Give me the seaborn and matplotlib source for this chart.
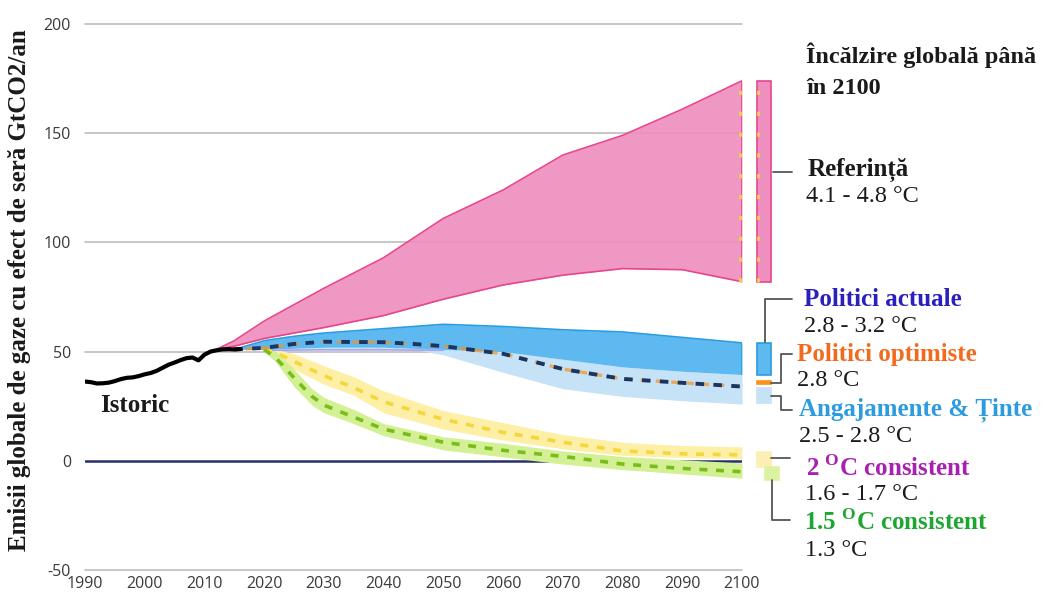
import numpy as np
import pandas as pd
import matplotlib
matplotlib.use("Agg")
import matplotlib.pyplot as plt
import seaborn as sns

# ---- historical emissions (GtCO2e / year) ----
hist_years = [1990, 1991, 1992, 1993, 1994, 1995, 1996, 1997, 1998, 1999, 2000,
              2001, 2002, 2003, 2004, 2005, 2006, 2007, 2008, 2009, 2010,
              2011, 2012, 2013, 2014, 2015, 2016]
hist_vals = [36.3, 36.0, 35.4, 35.5, 35.8, 36.5, 37.4, 38.0, 38.2, 38.8, 39.6,
             40.2, 41.2, 42.6, 44.0, 45.0, 46.1, 47.0, 47.3, 46.0, 48.6,
             50.0, 50.6, 51.0, 51.1, 51.0, 51.2]

# ---- baseline (reference) range ----
ref_years = [2012, 2015, 2020, 2030, 2040, 2050, 2060, 2070, 2080, 2090, 2100]
ref_high = [51, 55, 64, 79, 93, 111, 124, 140, 149, 161, 174]
ref_low = [51, 52.5, 56, 61, 66.5, 74, 80.5, 85, 88, 87.5, 82]

# ---- current policies range ----
cur_years = [2015, 2020, 2025, 2030, 2040, 2050, 2060, 2070, 2080, 2090, 2100]
cur_high = [51, 55, 57, 58.5, 60.5, 62.5, 61.5, 60, 59, 56.5, 54]
cur_low = [51, 51, 51.5, 52, 52, 51, 50, 46.5, 43, 41, 39.5]

# ---- pledges & targets range ----
pl_years = [2015, 2020, 2030, 2040, 2045, 2050, 2055, 2060, 2070, 2080, 2090, 2100]
pl_high = [51, 51, 52, 52, 51.5, 51, 50.5, 50, 46.5, 43, 41, 39.5]
pl_low = [51, 51, 51, 51, 51, 48.5, 44.5, 40.5, 33, 29.5, 27.5, 26]

# ---- optimistic policies median ----
opt_years = [2015, 2020, 2025, 2030, 2040, 2045, 2050, 2060, 2070, 2080, 2090, 2100]
opt_vals = [51, 51.7, 53.5, 54.5, 54.3, 53.5, 52.5, 49, 42, 37.5, 35.7, 34]

# ---- 2 °C consistent pathway ----
c2_years = [2020, 2022, 2025, 2030, 2035, 2040, 2050, 2060, 2070, 2080, 2090, 2100]
c2_high = [52, 51, 49, 43.5, 38.5, 32, 23, 17.5, 12, 8.5, 7, 6.4]
c2_mid = [51, 49.5, 45.5, 39, 33.5, 27, 19, 13, 8.5, 4.5, 3.2, 2.7]
c2_low = [50, 47, 42, 35, 30, 22, 14.5, 9.5, 5.5, 2.5, 1.5, 1.0]

# ---- 1.5 °C consistent pathway ----
c15_years = [2020, 2022, 2025, 2028, 2030, 2035, 2040, 2050, 2060, 2070, 2080, 2090, 2100]
c15_high = [52, 50, 42, 33, 29, 23.5, 17, 11, 8, 4.5, 2, 0.5, -1]
c15_mid = [51, 47, 38, 29.5, 25.5, 20, 14.5, 8.5, 4.8, 2, -1.5, -3.5, -5]
c15_low = [50, 45, 34, 25.5, 22, 17, 11.5, 5, 1.8, -1.5, -4, -6, -8]

# ---- 2100 ranges shown as bars beside the plot ----
bar_names = ["Referință", "Politici actuale", "Politici optimiste",
             "Angajamente & Ținte", "2 °C consistent", "1.5 °C consistent"]
bar_low = [82, 39.5, 35.2, 26.5, -2.7, -8.7]
bar_high = [174, 54, 36.4, 33.4, 4.1, -2.7]

# ---- axis ticks ----
x_ticks = list(range(1990, 2101, 10))
y_ticks = [-50, 0, 50, 100, 150, 200]

# ---- colours ----
PINK_FILL, PINK_EDGE = "#ef8fbf", "#e8468a"
BLUE_FILL, BLUE_EDGE = "#5db9ef", "#2a9de2"
LBLUE_FILL = "#c6e2f7"
YEL_FILL, YEL_LINE = "#fdf0a6", "#f5d63c"
GRN_FILL, GRN_LINE = "#d3f095", "#79bd1c"
NAVY = "#1b3560"
ORANGE = "#f7931e"

sns.set_theme(style="white")
plt.rcParams["font.family"] = ["Liberation Serif", "DejaVu Sans"]
plt.rcParams["mathtext.fontset"] = "custom"
plt.rcParams["mathtext.rm"] = "Liberation Serif"
plt.rcParams["mathtext.bf"] = "Liberation Serif:bold"
plt.rcParams["axes.unicode_minus"] = False

W, H = 1046, 594
fig = plt.figure(figsize=(W / 100, H / 100), dpi=100)
ax = fig.add_axes([85 / W, 24 / H, 657 / W, 546 / H])
ax.set_xlim(1990, 2100)
ax.set_ylim(-50, 200)
for s in ax.spines.values():
    s.set_visible(False)

# horizontal grid
for v in y_ticks:
    if v != 0:
        ax.axhline(v, color="#b8b8b8", lw=1.1, zorder=0, clip_on=False)
ax.axhline(0, color="#26306b", lw=1.8, zorder=1)

# bands
ax.fill_between(ref_years, ref_low, ref_high, color=PINK_FILL, alpha=0.92, lw=0, zorder=2)
sns.lineplot(x=ref_years, y=ref_high, ax=ax, color=PINK_EDGE, lw=1.2, zorder=3)
sns.lineplot(x=ref_years, y=ref_low, ax=ax, color=PINK_EDGE, lw=1.2, zorder=3)
ax.vlines(2100, ref_low[-1], ref_high[-1], color=PINK_EDGE, lw=1.2, zorder=3)
ax.vlines(2099.7, ref_low[-1], ref_high[-1], color="#f3d34a", lw=2,
          linestyles=(0, (1.5, 6)), zorder=3)

ax.fill_between(pl_years, pl_low, pl_high, color=LBLUE_FILL, lw=0, zorder=2)
ax.fill_between(cur_years, cur_low, cur_high, color=BLUE_FILL, lw=0, zorder=3)
sns.lineplot(x=cur_years, y=cur_high, ax=ax, color=BLUE_EDGE, lw=1.2, zorder=3)
ax.vlines(2100, cur_low[-1], cur_high[-1], color=BLUE_EDGE, lw=1.2, zorder=3)
sns.lineplot(x=[2020, 2030, 2040, 2050], y=[50.6, 50.8, 50.8, 50.6], ax=ax,
             color="#a9a3f0", lw=1.2, zorder=3)

ax.fill_between(c2_years, c2_low, c2_high, color=YEL_FILL, lw=0, zorder=2)
ax.fill_between(c15_years, c15_low, c15_high, color=GRN_FILL, lw=0, zorder=2)

# median pathways
sns.lineplot(x=c2_years, y=c2_mid, ax=ax, color=YEL_LINE, lw=2.6,
             linestyle=(0, (2.2, 2.4)), zorder=4)
sns.lineplot(x=c15_years, y=c15_mid, ax=ax, color=GRN_LINE, lw=2.6,
             linestyle=(0, (2.2, 2.4)), zorder=4)
sns.lineplot(x=opt_years, y=opt_vals, ax=ax, color=ORANGE, lw=2.4,
             linestyle=(1.2, (2.2, 2.4)), zorder=4, alpha=0.7)
sns.lineplot(x=opt_years, y=opt_vals, ax=ax, color=NAVY, lw=2.8,
             linestyle=(0, (2.2, 2.4)), zorder=5)

# history
sns.lineplot(x=hist_years, y=hist_vals, ax=ax, color="black", lw=3, zorder=6)

# 2100 range bars
bar_x = [2103.7, 2103.7, 2103.7, 2103.7, 2103.7, 2105.0]
bar_fc = [PINK_FILL, BLUE_FILL, ORANGE, LBLUE_FILL, "#fdefb4", "#dbf3a0"]
bar_ec = [PINK_EDGE, BLUE_EDGE, ORANGE, LBLUE_FILL, "#fdefb4", "#dbf3a0"]
for bx, lo, hi, fc, ec in zip(bar_x, bar_low, bar_high, bar_fc, bar_ec):
    ax.bar(bx, hi - lo, bottom=lo, width=2.3, color=fc, edgecolor=ec,
           lw=1.2, clip_on=False, zorder=4)
ax.vlines(2102.7, bar_low[0], bar_high[0], color="#f3d34a", lw=2,
          linestyles=(0, (1.5, 6)), zorder=5, clip_on=False)

# connectors from bars to labels
def px(x, y):
    """pixel position -> data coordinates"""
    return 1990 + (x - 85) / 657 * 110, 200 - (y - 24) / 546 * 250

def connector(points):
    xs, ys = zip(*[px(*p) for p in points])
    ax.plot(xs, ys, color="#555555", lw=1.3, clip_on=False, zorder=5)

connector([(773, 172), (792, 172)])
connector([(765, 342), (765, 299), (792, 299)])
connector([(771, 383), (781, 383), (781, 354), (792, 354)])
connector([(771, 396), (781, 396), (781, 410), (792, 410)])
connector([(771, 458), (790, 458)])
connector([(772, 480), (772, 520), (790, 520)])

# axes ticks
ax.set_xticks(x_ticks)
ax.set_yticks(y_ticks)
ax.tick_params(axis="both", length=0, labelsize=11.5, labelcolor="#3a3a3a")
ax.tick_params(axis="y", pad=10)
ax.tick_params(axis="x", pad=4)
for lab in ax.get_xticklabels() + ax.get_yticklabels():
    lab.set_family("Open Sans")

# text
def ftext(x, y, s, **kw):
    fig.text(x / W, 1 - y / H, s, va="center", ha="left", **kw)

BOLD = 18
REG = 17.5
fig.text(20 / W, 1 - 290 / H, "Emisii globale de gaze cu efect de seră GtCO2/an",
         rotation=90, va="center", ha="center", fontsize=18, fontweight="bold",
         color="#1a1a1a")
ftext(100, 405, "Istoric", fontsize=BOLD, fontweight="bold", color="#1a1a1a")
ftext(806, 55, "Încălzire globală până", fontsize=17.5, fontweight="bold", color="#1a1a1a")
ftext(806, 88, "în 2100", fontsize=17.5, fontweight="bold", color="#1a1a1a")

ftext(808, 170, bar_names[0], fontsize=BOLD, fontweight="bold", color="#1a1a1a")
ftext(806, 197, "4.1 - 4.8 °C", fontsize=REG, color="#1a1a1a")
ftext(804, 299, bar_names[1], fontsize=BOLD, fontweight="bold", color="#2b1fbd")
ftext(804, 326, "2.8 - 3.2 °C", fontsize=REG, color="#1a1a1a")
ftext(797, 354, bar_names[2], fontsize=BOLD, fontweight="bold", color="#f26b1d")
ftext(797, 381, "2.8 °C", fontsize=REG, color="#1a1a1a")
ftext(799, 410, bar_names[3], fontsize=BOLD, fontweight="bold", color="#2c9be0")
ftext(799, 437, "2.5 - 2.8 °C", fontsize=REG, color="#1a1a1a")
ftext(806, 468, r"2 $^{\mathbf{O}}$C consistent", fontsize=BOLD, fontweight="bold",
      color="#a81fb2")
ftext(805, 494, "1.6 - 1.7 °C", fontsize=REG, color="#1a1a1a")
ftext(804, 522, r"1.5 $^{\mathbf{O}}$C consistent", fontsize=BOLD, fontweight="bold",
      color="#1fa531")
ftext(805, 550, "1.3 °C", fontsize=REG, color="#1a1a1a")

fig.savefig("out.png", dpi=100, facecolor="white")
